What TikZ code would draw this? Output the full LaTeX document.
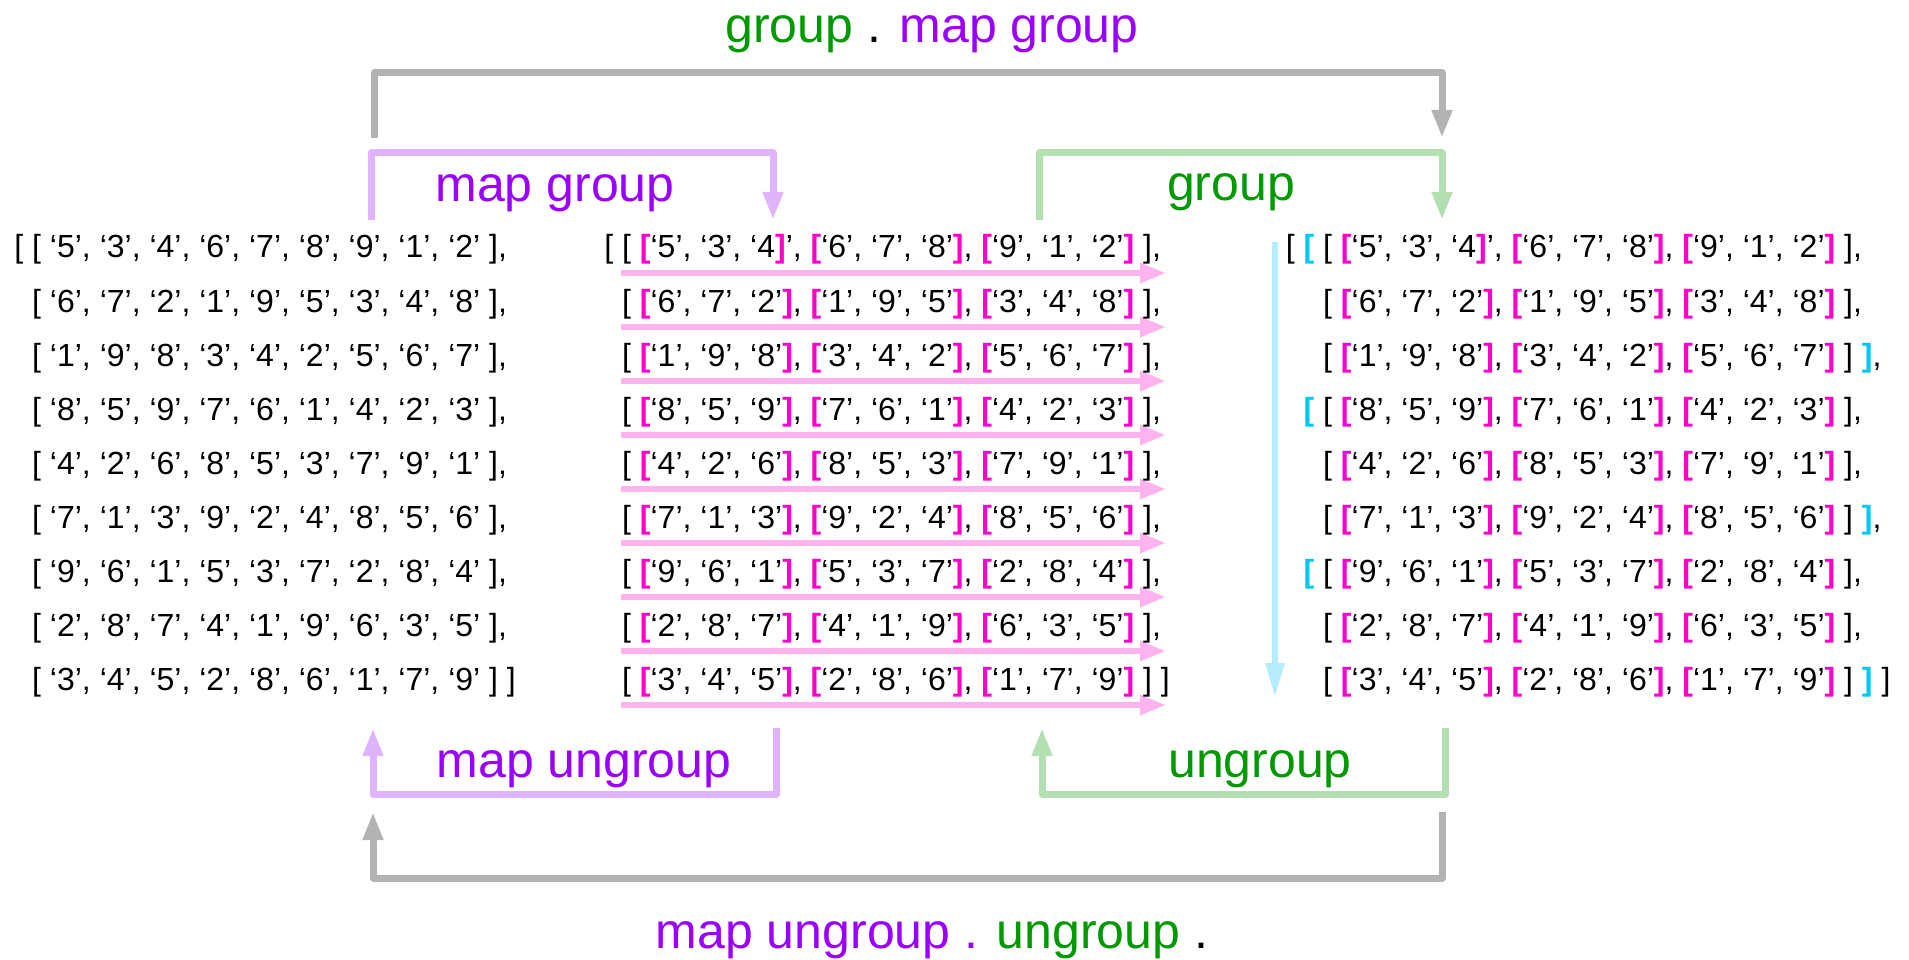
\documentclass[tikz,border=0pt]{standalone}
\usepackage{fontspec}
\setmainfont{Liberation Sans}
\usetikzlibrary{arrows.meta}
\definecolor{mgc}{RGB}{255,0,204}
\definecolor{cyc}{RGB}{0,200,245}
\definecolor{lbluec}{RGB}{179,236,252}
\definecolor{pinkc}{RGB}{255,179,238}
\definecolor{purc}{RGB}{153,0,255}
\definecolor{grnc}{RGB}{0,153,0}
\definecolor{lpurc}{RGB}{224,179,255}
\definecolor{lgrnc}{RGB}{179,224,179}
\definecolor{grayc}{RGB}{179,179,179}
\newcommand\Mb[1]{{\color{mgc}\bfseries #1}}
\newcommand\Cb[1]{{\color{cyc}\bfseries #1}}
\newcommand\grp[3]{\Mb{[}‘#1’, ‘#2’, ‘#3’\Mb{]}}
\newcommand\lrow[9]{[ ‘#1’, ‘#2’, ‘#3’, ‘#4’, ‘#5’, ‘#6’, ‘#7’, ‘#8’, ‘#9’ ]}
\begin{document}
\begin{tikzpicture}[x=1pt,y=-1pt,
  rowtext/.style={anchor=base west, inner sep=0pt, font=\fontsize{32}{34}\selectfont},
  lab/.style={anchor=base, inner sep=0pt, font=\fontsize{50}{56}\selectfont},
  bigarrow/.style={line width=7pt, line join=round, -{Triangle[length=28pt,width=19pt]}},
  grayarrow/.style={bigarrow, draw=grayc},
  purarrow/.style={bigarrow, draw=lpurc},
  grnarrow/.style={bigarrow, draw=lgrnc},
  pinkarrow/.style={line width=6pt, draw=pinkc, -{Triangle[length=26pt,width=19pt]}},
  bluearrow/.style={line width=6pt, draw=lbluec, -{Triangle[length=34pt,width=18pt]}}]
\useasboundingbox (0,0) rectangle (1909,960);
\fill[white] (0,0) rectangle (1909,960);

% ---- connector end points
\coordinate (gt1) at (374,138);  \coordinate (gt2) at (1442,138);
\coordinate (pt1) at (371,220);  \coordinate (pt2) at (773,220);
\coordinate (ct1) at (1039,220); \coordinate (ct2) at (1442,220);
\coordinate (pb1) at (776,728);  \coordinate (pb2) at (373,728);
\coordinate (cb1) at (1445,728); \coordinate (cb2) at (1042,728);
\coordinate (gb1) at (1442,812); \coordinate (gb2) at (373,812);
\coordinate (bl1) at (1275,242); \coordinate (bl2) at (1275,697);

\draw[grayarrow] (gt1) -- (374,73) -| (gt2);
\draw[purarrow] (pt1) -- (371,153) -| (pt2);
\draw[grnarrow] (ct1) -- (1039,153) -| (ct2);
\draw[purarrow] (pb1) -- (776,794) -| (pb2);
\draw[grnarrow] (cb1) -- (1445,794) -| (cb2);
\draw[grayarrow] (gb1) -- (1442,878) -| (gb2);
\draw[bluearrow] (bl1) -- (bl2);

\foreach \i in {0,...,8}{
  \coordinate (pa\i) at (621,273+54*\i);
  \coordinate (pz\i) at (1166,273+54*\i);
  \draw[pinkarrow] (pa\i) -- (pz\i);
}

% ---- left column
\node[rowtext] (l1) at (32,258) {\llap{[ }\lrow{5}{3}{4}{6}{7}{8}{9}{1}{2},};
\node[rowtext] (l2) at (32,312) {\lrow{6}{7}{2}{1}{9}{5}{3}{4}{8},};
\node[rowtext] (l3) at (32,366) {\lrow{1}{9}{8}{3}{4}{2}{5}{6}{7},};
\node[rowtext] (l4) at (32,420) {\lrow{8}{5}{9}{7}{6}{1}{4}{2}{3},};
\node[rowtext] (l5) at (32,474) {\lrow{4}{2}{6}{8}{5}{3}{7}{9}{1},};
\node[rowtext] (l6) at (32,528) {\lrow{7}{1}{3}{9}{2}{4}{8}{5}{6},};
\node[rowtext] (l7) at (32,582) {\lrow{9}{6}{1}{5}{3}{7}{2}{8}{4},};
\node[rowtext] (l8) at (32,636) {\lrow{2}{8}{7}{4}{1}{9}{6}{3}{5},};
\node[rowtext] (l9) at (32,690) {\lrow{3}{4}{5}{2}{8}{6}{1}{7}{9} ]};

% ---- middle column
\node[rowtext] (m1) at (622,258) {\llap{[ }[ \Mb{[}‘5’, ‘3’, ‘4\Mb{]}’, \grp{6}{7}{8}, \grp{9}{1}{2} ],};
\node[rowtext] (m2) at (622,312) {[ \grp{6}{7}{2}, \grp{1}{9}{5}, \grp{3}{4}{8} ],};
\node[rowtext] (m3) at (622,366) {[ \grp{1}{9}{8}, \grp{3}{4}{2}, \grp{5}{6}{7} ],};
\node[rowtext] (m4) at (622,420) {[ \grp{8}{5}{9}, \grp{7}{6}{1}, \grp{4}{2}{3} ],};
\node[rowtext] (m5) at (622,474) {[ \grp{4}{2}{6}, \grp{8}{5}{3}, \grp{7}{9}{1} ],};
\node[rowtext] (m6) at (622,528) {[ \grp{7}{1}{3}, \grp{9}{2}{4}, \grp{8}{5}{6} ],};
\node[rowtext] (m7) at (622,582) {[ \grp{9}{6}{1}, \grp{5}{3}{7}, \grp{2}{8}{4} ],};
\node[rowtext] (m8) at (622,636) {[ \grp{2}{8}{7}, \grp{4}{1}{9}, \grp{6}{3}{5} ],};
\node[rowtext] (m9) at (622,690) {[ \grp{3}{4}{5}, \grp{2}{8}{6}, \grp{1}{7}{9} ] ]};

% ---- right column
\node[rowtext] (r1) at (1323,258) {\llap{[ \Cb{[} }[ \Mb{[}‘5’, ‘3’, ‘4\Mb{]}’, \grp{6}{7}{8}, \grp{9}{1}{2} ],};
\node[rowtext] (r2) at (1323,312) {[ \grp{6}{7}{2}, \grp{1}{9}{5}, \grp{3}{4}{8} ],};
\node[rowtext] (r3) at (1323,366) {[ \grp{1}{9}{8}, \grp{3}{4}{2}, \grp{5}{6}{7} ] \Cb{]},};
\node[rowtext] (r4) at (1323,420) {\llap{\Cb{[} }[ \grp{8}{5}{9}, \grp{7}{6}{1}, \grp{4}{2}{3} ],};
\node[rowtext] (r5) at (1323,474) {[ \grp{4}{2}{6}, \grp{8}{5}{3}, \grp{7}{9}{1} ],};
\node[rowtext] (r6) at (1323,528) {[ \grp{7}{1}{3}, \grp{9}{2}{4}, \grp{8}{5}{6} ] \Cb{]},};
\node[rowtext] (r7) at (1323,582) {\llap{\Cb{[} }[ \grp{9}{6}{1}, \grp{5}{3}{7}, \grp{2}{8}{4} ],};
\node[rowtext] (r8) at (1323,636) {[ \grp{2}{8}{7}, \grp{4}{1}{9}, \grp{6}{3}{5} ],};
\node[rowtext] (r9) at (1323,690) {[ \grp{3}{4}{5}, \grp{2}{8}{6}, \grp{1}{7}{9} ] \Cb{]} ]};

% ---- labels
\node[lab] (title) at (932,43) {\color{grnc}group \color{black}. \color{purc}map group};
\node[lab] (mapgroup) at (555,202) {\color{purc}map group};
\node[lab] (group) at (1231,201) {\color{grnc}group};
\node[lab] (mapungroup) at (584,777) {\color{purc}map ungroup};
\node[lab] (ungroup) at (1260,777) {\color{grnc}ungroup};
\node[lab] (bottom) at (932,948) {\color{purc}map ungroup . \color{grnc}ungroup \color{black}.};
\end{tikzpicture}
\end{document}
